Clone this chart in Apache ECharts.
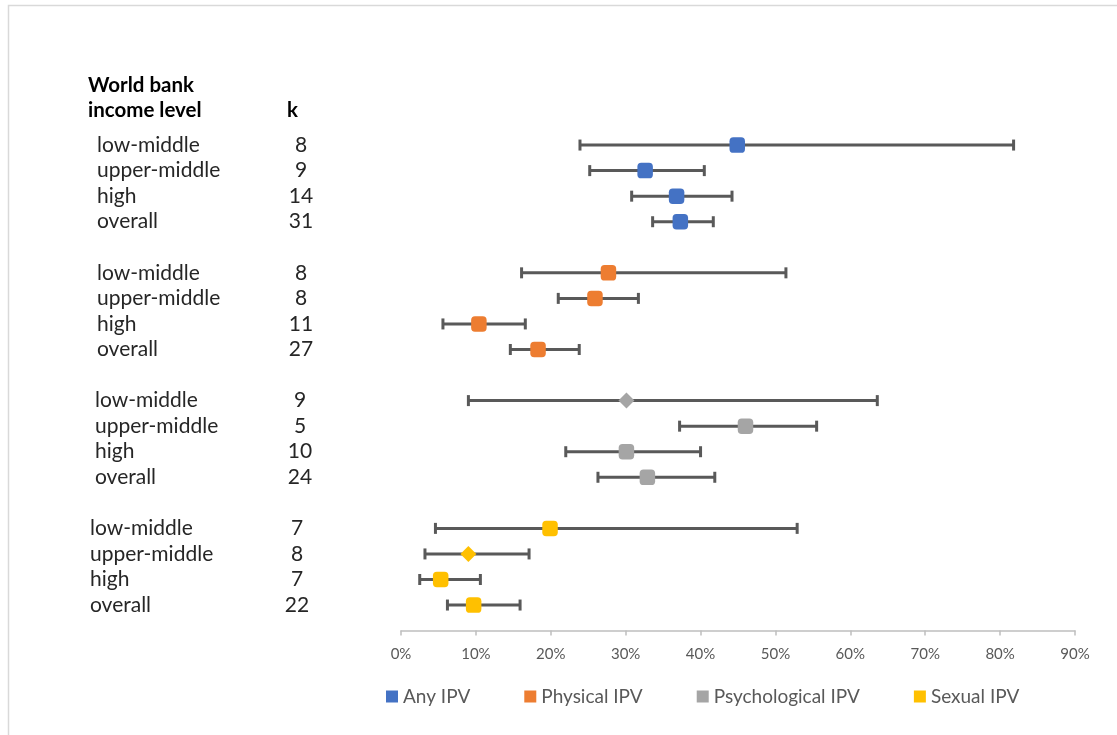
<!DOCTYPE html>
<html><head><meta charset="utf-8">
<script src="https://cdn.jsdelivr.net/npm/echarts@6/dist/echarts.min.js"></script>
<style>html,body{margin:0;padding:0;background:#fff}#c{width:1117px;height:735px}</style>
</head><body><div id="c"></div>
<script>
// ---- data ----
const seriesNames = ['Any IPV', 'Physical IPV', 'Psychological IPV', 'Sexual IPV'];
const levels = ['low-middle', 'upper-middle', 'high', 'overall'];
const kAny = [8, 9, 14, 31];
const kPhysical = [8, 8, 11, 27];
const kPsych = [9, 5, 10, 24];
const kSexual = [7, 8, 7, 22];
const estAny = [44.9, 32.6, 36.8, 37.3];
const lowAny = [23.9, 25.2, 30.8, 33.6];
const upAny = [81.8, 40.5, 44.2, 41.7];
const estPhysical = [27.7, 25.9, 10.4, 18.3];
const lowPhysical = [16.1, 21.0, 5.6, 14.6];
const upPhysical = [51.4, 31.7, 16.6, 23.8];
const estPsych = [30.1, 46.0, 30.1, 32.9];
const lowPsych = [9.0, 37.2, 22.0, 26.3];
const upPsych = [63.6, 55.5, 40.0, 41.9];
const estSexual = [19.9, 9.0, 5.3, 9.7];
const lowSexual = [4.6, 3.2, 2.5, 6.2];
const upSexual = [52.9, 17.1, 10.6, 15.9];
// marker shape per row: s = square, d = diamond
const shapeAny = ['s', 's', 's', 's'];
const shapePhysical = ['s', 's', 's', 's'];
const shapePsych = ['d', 's', 's', 's'];
const shapeSexual = ['s', 'd', 's', 's'];

// ---- styles ----
const colors = ['#4472C4', '#ED7D31', '#A5A5A5', '#FFC000'];
const barColor = '#595959';
const FONT = 'Lato';
const labelX = [97, 97, 95, 90];
const kX = [301, 301, 300, 297];

const groups = [
  {k: kAny, est: estAny, lo: lowAny, hi: upAny, shape: shapeAny},
  {k: kPhysical, est: estPhysical, lo: lowPhysical, hi: upPhysical, shape: shapePhysical},
  {k: kPsych, est: estPsych, lo: lowPsych, hi: upPsych, shape: shapePsych},
  {k: kSexual, est: estSexual, lo: lowSexual, hi: upSexual, shape: shapeSexual}
];

const series = [];
const textData = [];
groups.forEach((g, gi) => {
  const errData = [], ptData = [];
  levels.forEach((lv, ri) => {
    const slot = gi * 5 + ri;
    errData.push([g.lo[ri], g.hi[ri], slot]);
    ptData.push([g.est[ri], slot, g.shape[ri]]);
    textData.push([0, slot, gi, ri]);
  });
  series.push({
    type: 'custom', silent: true, z: 2,
    data: errData,
    renderItem: function (params, api) {
      const a = api.coord([api.value(0), api.value(2)]);
      const b = api.coord([api.value(1), api.value(2)]);
      const h = 5.5;
      const st = {stroke: barColor, lineWidth: 3, fill: null};
      return {type: 'group', children: [
        {type: 'line', shape: {x1: a[0], y1: a[1], x2: b[0], y2: b[1]}, style: st},
        {type: 'line', shape: {x1: a[0], y1: a[1] - h, x2: a[0], y2: a[1] + h}, style: st},
        {type: 'line', shape: {x1: b[0], y1: b[1] - h, x2: b[0], y2: b[1] + h}, style: st}
      ]};
    }
  });
  series.push({
    type: 'scatter', name: seriesNames[gi], z: 5,
    data: ptData,
    symbol: function (v) { return v[2] === 'd' ? 'diamond' : 'roundRect'; },
    symbolSize: function (v) { return v[2] === 'd' ? [16, 16] : [15.5, 15.5]; },
    itemStyle: {color: colors[gi], opacity: 1}
  });
});
series.push({
  type: 'custom', silent: true,
  data: textData,
  renderItem: function (params, api) {
    const gi = api.value(2), ri = api.value(3);
    const y = api.coord([0, api.value(1)])[1];
    return {type: 'group', children: [
      {type: 'text', style: {text: levels[ri], x: labelX[gi], y: y, verticalAlign: 'middle', align: 'left',
        font: '21px ' + FONT, fill: '#262626'}},
      {type: 'text', style: {text: String(groups[gi].k[ri]), x: kX[gi], y: y, verticalAlign: 'middle', align: 'center',
        font: '21px ' + FONT, fill: '#262626'}}
    ]};
  }
});

const chart = echarts.init(document.getElementById('c'), null, {renderer: 'canvas'});
chart.setOption({
  animation: false,
  backgroundColor: '#fff',
  grid: {left: 401, right: 42, top: 119.5, bottom: 104.4},
  xAxis: {
    type: 'value', min: 0, max: 90, interval: 10, position: 'bottom',
    axisLine: {show: true, onZero: false, lineStyle: {color: '#BFBFBF', width: 1.5}},
    axisTick: {show: true, length: 5, lineStyle: {color: '#BFBFBF', width: 1.5}},
    splitLine: {show: false},
    axisLabel: {formatter: '{value}%', color: '#595959', fontSize: 15, fontFamily: FONT, margin: 16}
  },
  yAxis: {type: 'value', min: -1, max: 19, inverse: true, show: false},
  legend: {
    data: seriesNames, left: 381, top: 682, icon: 'rect', itemWidth: 12, itemHeight: 12, itemGap: 54,
    textStyle: {color: '#595959', fontSize: 19, fontFamily: FONT}
  },
  graphic: [
    {type: 'rect', shape: {x: 8.5, y: 5.5, width: 1200, height: 800}, style: {stroke: '#D9D9D9', lineWidth: 1.5, fill: null}, silent: true},
    {type: 'text', style: {text: 'World bank', x: 88, y: 85, verticalAlign: 'middle', font: 'bold 20.5px ' + FONT, fill: '#000'}},
    {type: 'text', style: {text: 'income level', x: 88, y: 110, verticalAlign: 'middle', font: 'bold 20.5px ' + FONT, fill: '#000'}},
    {type: 'text', style: {text: 'k', x: 287, y: 110, verticalAlign: 'middle', font: 'bold 20.5px ' + FONT, fill: '#000'}}
  ],
  series: series
});
</script>
</body></html>
